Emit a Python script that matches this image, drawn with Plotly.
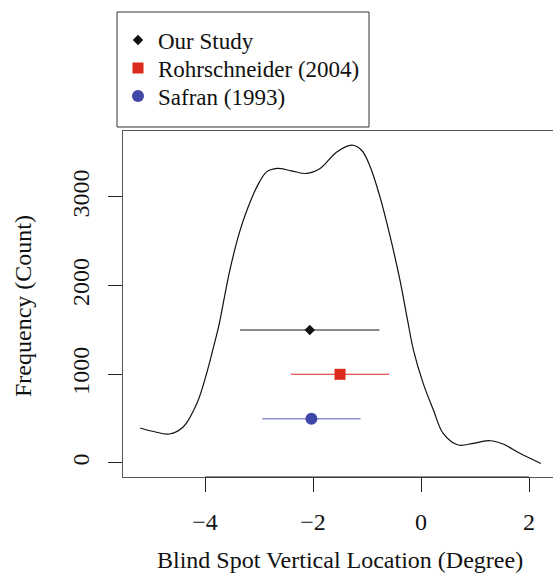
import plotly.graph_objects as go

# Density curve
dens_x = [-5.20, -4.95, -4.66, -4.40, -4.15, -3.97, -3.81, -3.74, -3.54, -3.35, -3.20,
          -3.04, -2.86, -2.66, -2.40, -2.12, -1.87, -1.56, -1.28, -1.10, -0.94, -0.76,
          -0.57, -0.39, -0.24, -0.14, 0.04, 0.23, 0.41, 0.69, 0.97, 1.28, 1.52, 1.83, 2.22]
dens_y = [395, 355, 327, 409, 673, 1011, 1386, 1560, 2175, 2626, 2889,
          3114, 3283, 3322, 3295, 3265, 3321, 3508, 3584, 3527, 3339, 3001,
          2550, 2062, 1580, 1273, 898, 597, 335, 203, 222, 251, 214, 109, -5]

# Study estimates
studies = ["Our Study", "Rohrschneider (2004)", "Safran (1993)"]
means = [-2.06, -1.50, -2.03]
errs = [1.29, 0.91, 0.91]
heights = [1500, 1000, 500]
marker_symbols = ["diamond", "square", "circle"]
marker_colors = ["#111111", "#dc2a1c", "#3f48a8"]
err_colors = ["#666666", "#d9291c", "#8a90d0"]
err_widths = [1.5, 1.1, 1.5]
marker_sizes = [8, 11, 12]

x_ticks = [-4, -2, 0, 2]
y_ticks = [0, 1000, 2000, 3000]
y_ticklabels = ["0", "1000", "2000", "3000"]

FONT = "Liberation Serif"
W, H = 553, 578
L, R, T, B = 123, 0, 131, 101
PW, PH = W - L - R, H - T - B

def px_x(p):
    return (p - L) / PW

def px_y(p):
    return (H - B - p) / PH

legend_ids = ["legend", "legend2", "legend3"]
legend_rows = [42, 70, 98]

fig = go.Figure()
fig.add_trace(go.Scatter(x=dens_x, y=dens_y, mode="lines",
                         line=dict(color="#111111", width=1.2, shape="spline", smoothing=1.0),
                         showlegend=False, hoverinfo="skip"))
for i, name in enumerate(studies):
    fig.add_trace(go.Scatter(
        x=[means[i]], y=[heights[i]], mode="markers", name=name, legend=legend_ids[i],
        marker=dict(symbol=marker_symbols[i], size=marker_sizes[i], color=marker_colors[i],
                    line=dict(width=0)),
        error_x=dict(type="data", array=[errs[i]], symmetric=True, width=0,
                     thickness=err_widths[i], color=err_colors[i]),
    ))

leg_common = dict(x=px_x(118), xanchor="left", yanchor="top",
                  bgcolor="rgba(0,0,0,0)", borderwidth=0,
                  font=dict(family=FONT, size=23, color="#111111"),
                  itemsizing="trace")

fig.update_layout(
    width=W, height=H,
    margin=dict(l=L, r=R, t=T, b=B, pad=0),
    paper_bgcolor="white", plot_bgcolor="white",
    font=dict(family=FONT, size=24, color="#111111"),
    xaxis=dict(range=[-5.519, 2.444], tickvals=x_ticks, ticks="outside", ticklen=14,
               tickwidth=1, tickcolor="#222222", showgrid=False, zeroline=False,
               showline=True, mirror=True, linecolor="#555555", linewidth=1,
               tickfont=dict(family=FONT, size=24, color="#111111"),
               ticklabelstandoff=9),
    yaxis=dict(range=[-158, 3744], tickvals=y_ticks, ticktext=y_ticklabels, ticks="outside",
               ticklen=14, tickwidth=1, tickcolor="#222222", showgrid=False, zeroline=False,
               showline=True, mirror=False, linecolor="#555555", linewidth=1,
               tickangle=-90, tickfont=dict(family=FONT, size=24, color="#111111"),
               ticklabelstandoff=9),
    legend=dict(y=px_y(legend_rows[0] - 23.5), **leg_common),
    legend2=dict(y=px_y(legend_rows[1] - 23.5), **leg_common),
    legend3=dict(y=px_y(legend_rows[2] - 23.5), **leg_common),
    showlegend=True,
)

# darker axis segment from first to last tick
fig.add_shape(type="line", xref="x", yref="paper", x0=x_ticks[0], x1=x_ticks[-1], y0=0, y1=0,
              line=dict(color="#222222", width=1))
# legend frame
fig.add_shape(type="rect", xref="paper", yref="paper",
              x0=px_x(117), x1=px_x(369), y0=px_y(127), y1=px_y(12),
              line=dict(color="#333333", width=1), fillcolor="rgba(0,0,0,0)")

fig.add_annotation(text="Blind Spot Vertical Location (Degree)", xref="paper", yref="paper",
                   x=px_x(339.5), y=px_y(560), showarrow=False,
                   xanchor="center", yanchor="middle",
                   font=dict(family=FONT, size=24, color="#111111"))
fig.add_annotation(text="Frequency (Count)", xref="paper", yref="paper",
                   x=px_x(23), y=px_y(306), showarrow=False, textangle=-90,
                   xanchor="center", yanchor="middle",
                   font=dict(family=FONT, size=24, color="#111111"))

fig.write_html("out.html", config={"displayModeBar": False},
               post_script="document.body.style.margin='0px';")
